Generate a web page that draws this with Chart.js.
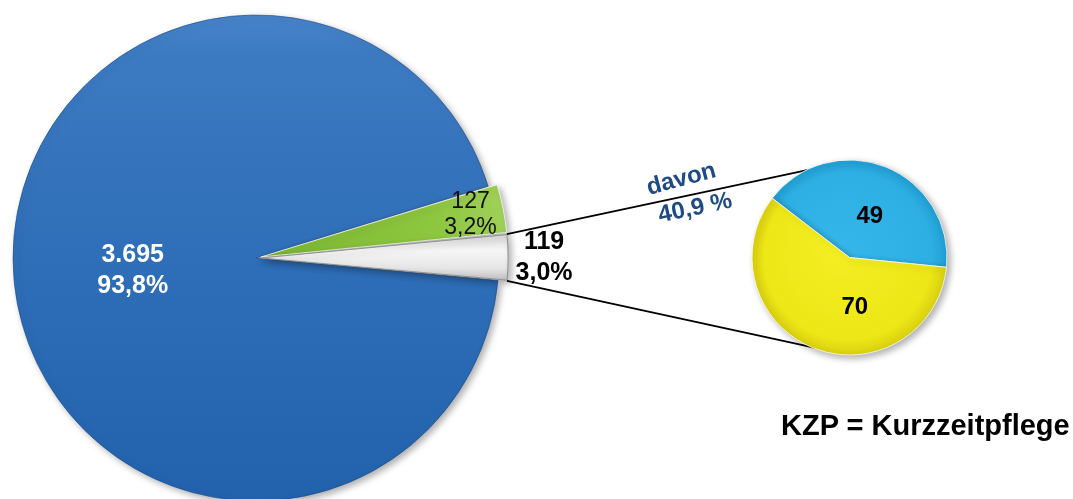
<!DOCTYPE html>
<html>
<head>
<meta charset="utf-8">
<script src="https://cdn.jsdelivr.net/npm/chart.js@4.4.1/dist/chart.umd.min.js"></script>
<style>
  html, body { margin: 0; padding: 0; background: #ffffff; width: 1073px; height: 499px; overflow: hidden; }
  #wrap { position: relative; width: 1073px; height: 499px; }
  .box { position: absolute; left: 0; top: 0; width: 1073px; height: 499px; }
  .note { position: absolute; font-family: "Liberation Sans", Arial, sans-serif; font-weight: bold; white-space: nowrap; }
  #davon1, #davon2 { color: #1F4B84; font-size: 24px; transform: translate(-50%, -50%); }
  #davon1 { left: 681px; top: 178px; transform: translate(-50%, -50%) rotate(-15deg); }
  #davon2 { left: 695px; top: 207px; transform: translate(-50%, -50%) rotate(-12deg); }
  #kzp { left: 781px; top: 425px; font-size: 29px; color: #000; transform: translateY(-50%); }
</style>
</head>
<body>
<div id="wrap">
  <div class="box"><canvas id="bigPie"></canvas></div>
  <div class="box"><canvas id="smallPie"></canvas></div>
  <div class="note" id="davon1"></div>
  <div class="note" id="davon2"></div>
  <div class="note" id="kzp"></div>
</div>
<script>
// ---------------- data ----------------
const bigCategories = ['Segment 1', 'Segment 2', 'Segment 3'];
const bigValues = [3695, 127, 119];
const smallCategories = ['Teil 1', 'Teil 2'];
const smallValues = [49, 70];
const davonLines = ['davon', '40,9 %'];
const noteText = 'KZP = Kurzzeitpflege';

// ---------------- styles ----------------
const FONT = '"Liberation Sans", Arial, sans-serif';
const BIG_RADIUS = 243;
const SMALL_RADIUS = 97.5;
const bigOffsets = [0, 20, 20];
const bigLabelStyle = [
  { font: 'bold 25px ' + FONT, color: '#ffffff', r: 0.51, lh: 31 },
  { font: '23px ' + FONT, color: '#111111', r: 0.88, lh: 26 },
  { font: 'bold 25px ' + FONT, color: '#000000', r: 1.165, lh: 31 }
];
const smallLabelStyle = [
  { font: 'bold 24px ' + FONT, color: '#000000', r: 0.48, dx: 3, dy: 2 },
  { font: 'bold 24px ' + FONT, color: '#000000', r: 0.52, dx: 24, dy: 3 }
];
const CONNECT_END_DEG = [-111, 103];

document.getElementById('davon1').textContent = davonLines[0];
document.getElementById('davon2').textContent = davonLines[1];
document.getElementById('kzp').textContent = noteText;

const bigTotal = bigValues.reduce((a, b) => a + b, 0);
function fmtNum(v) { return String(v).replace(/\B(?=(\d{3})+(?!\d))/g, '.'); }
function fmtPct(v) { return (v / bigTotal * 100).toFixed(1).replace('.', ',') + '%'; }

function centerOf(chart) {
  const a = chart.chartArea;
  return { x: (a.left + a.right) / 2, y: (a.top + a.bottom) / 2 };
}

function bigColor(c) {
  const chart = c.chart;
  if (!chart.chartArea) return '#2F6EB8';
  const ctx = chart.ctx;
  const { x, y } = centerOf(chart);
  const i = c.dataIndex;
  if (i === 0) {
    const g = ctx.createLinearGradient(0, y - BIG_RADIUS, 0, y + BIG_RADIUS);
    g.addColorStop(0, '#4884CA');
    g.addColorStop(0.08, '#3C7AC2');
    g.addColorStop(0.5, '#2F6EB8');
    g.addColorStop(1, '#2262AD');
    return g;
  }
  if (i === 1) {
    const g = ctx.createLinearGradient(x, y, x + BIG_RADIUS, y - 70);
    g.addColorStop(0, '#7DB832');
    g.addColorStop(0.7, '#8DC63F');
    g.addColorStop(1, '#A2D15A');
    return g;
  }
  const g = ctx.createLinearGradient(0, y - 25, 0, y + 25);
  g.addColorStop(0, '#D4D4D4');
  g.addColorStop(0.35, '#F6F6F6');
  g.addColorStop(0.7, '#E6E6E6');
  g.addColorStop(1, '#B8B8B8');
  return g;
}

function smallColor(c) {
  const chart = c.chart;
  if (!chart.chartArea) return '#2DAFE4';
  const ctx = chart.ctx;
  const { x, y } = centerOf(chart);
  const g = ctx.createRadialGradient(x - 10, y - 10, 5, x, y, SMALL_RADIUS);
  if (c.dataIndex === 0) {
    g.addColorStop(0, '#35B6EA');
    g.addColorStop(0.85, '#2EAFE4');
    g.addColorStop(1, '#1F9ED3');
  } else {
    g.addColorStop(0, '#F3ED22');
    g.addColorStop(0.85, '#EEE717');
    g.addColorStop(1, '#D9D010');
  }
  return g;
}

const shadowPlugin = {
  id: 'softShadow',
  beforeDatasetsDraw(chart) {
    const ctx = chart.ctx;
    ctx.save();
    ctx.shadowColor = 'rgba(0,0,0,0.32)';
    ctx.shadowBlur = 7;
    ctx.shadowOffsetX = 3;
    ctx.shadowOffsetY = 3;
  },
  afterDatasetsDraw(chart) {
    chart.ctx.restore();
  }
};

const bigLabelPlugin = {
  id: 'bigLabels',
  afterDraw(chart) {
    const ctx = chart.ctx;
    const meta = chart.getDatasetMeta(0);
    meta.data.forEach((arc, i) => {
      const st = bigLabelStyle[i];
      const mid = (arc.startAngle + arc.endAngle) / 2;
      const t = (bigOffsets[i] || 0) / 4;
      const r = arc.outerRadius * st.r + t;
      const cx = arc.x + Math.cos(mid) * r;
      const cy = arc.y + Math.sin(mid) * r;
      const lines = [fmtNum(bigValues[i]), fmtPct(bigValues[i])];
      ctx.save();
      ctx.font = st.font;
      ctx.fillStyle = st.color;
      ctx.textAlign = 'center';
      ctx.textBaseline = 'middle';
      lines.forEach((s, k) => {
        ctx.fillText(s, cx, cy + (k - (lines.length - 1) / 2) * st.lh);
      });
      ctx.restore();
    });
  }
};

const bigChart = new Chart(document.getElementById('bigPie'), {
  type: 'pie',
  data: {
    labels: bigCategories,
    datasets: [{
      data: bigValues,
      backgroundColor: bigColor,
      borderColor: ['rgba(25,70,130,0.55)', 'rgba(255,255,255,0.7)', 'rgba(140,140,140,0.9)'],
      borderWidth: 1,
      offset: bigOffsets
    }]
  },
  options: {
    responsive: true,
    maintainAspectRatio: false,
    animation: false,
    rotation: 95.3,
    radius: BIG_RADIUS,
    layout: { padding: { left: 0, top: 17, right: 561, bottom: 0 } },
    plugins: { legend: { display: false }, tooltip: { enabled: false } }
  },
  plugins: [shadowPlugin, bigLabelPlugin]
});

const connectorPlugin = {
  id: 'connectors',
  beforeDatasetsDraw(chart) {
    const arc = bigChart.getDatasetMeta(0).data[2];
    const small = chart.getDatasetMeta(0).data[0];
    if (!arc || !small) return;
    const ctx = chart.ctx;
    const t = bigOffsets[2] / 4;
    const circ = arc.endAngle - arc.startAngle;
    const R = arc.outerRadius + t * (1 - Math.sin(Math.min(Math.PI, circ)));
    const mid = (arc.startAngle + arc.endAngle) / 2;
    const ox = arc.x + Math.cos(mid) * t;
    const oy = arc.y + Math.sin(mid) * t;
    const starts = [arc.startAngle, arc.endAngle].map(a => [ox + R * Math.cos(a), oy + R * Math.sin(a)]);
    const rr = small.outerRadius - 2;
    const ends = CONNECT_END_DEG.map(d => [small.x + rr * Math.cos(d * Math.PI / 180), small.y + rr * Math.sin(d * Math.PI / 180)]);
    ctx.save();
    ctx.strokeStyle = '#000000';
    ctx.lineWidth = 1.8;
    for (let k = 0; k < 2; k++) {
      ctx.beginPath();
      ctx.moveTo(starts[k][0], starts[k][1]);
      ctx.lineTo(ends[k][0], ends[k][1]);
      ctx.stroke();
    }
    ctx.restore();
  }
};

const smallLabelPlugin = {
  id: 'smallLabels',
  afterDraw(chart) {
    const ctx = chart.ctx;
    chart.getDatasetMeta(0).data.forEach((arc, i) => {
      const st = smallLabelStyle[i];
      const mid = (arc.startAngle + arc.endAngle) / 2;
      const r = arc.outerRadius * st.r;
      ctx.save();
      ctx.font = st.font;
      ctx.fillStyle = st.color;
      ctx.textAlign = 'center';
      ctx.textBaseline = 'middle';
      ctx.fillText(String(smallValues[i]), arc.x + Math.cos(mid) * r + st.dx, arc.y + Math.sin(mid) * r + st.dy);
      ctx.restore();
    });
  }
};

const smallChart = new Chart(document.getElementById('smallPie'), {
  type: 'pie',
  data: {
    labels: smallCategories,
    datasets: [{
      data: smallValues,
      backgroundColor: smallColor,
      borderColor: 'rgba(255,255,255,0.75)',
      borderWidth: 1
    }]
  },
  options: {
    responsive: true,
    maintainAspectRatio: false,
    animation: false,
    rotation: -52.5,
    radius: SMALL_RADIUS,
    layout: { padding: { left: 626, top: 16, right: 0, bottom: 0 } },
    plugins: { legend: { display: false }, tooltip: { enabled: false } }
  },
  plugins: [connectorPlugin, shadowPlugin, smallLabelPlugin]
});
</script>
</body>
</html>
